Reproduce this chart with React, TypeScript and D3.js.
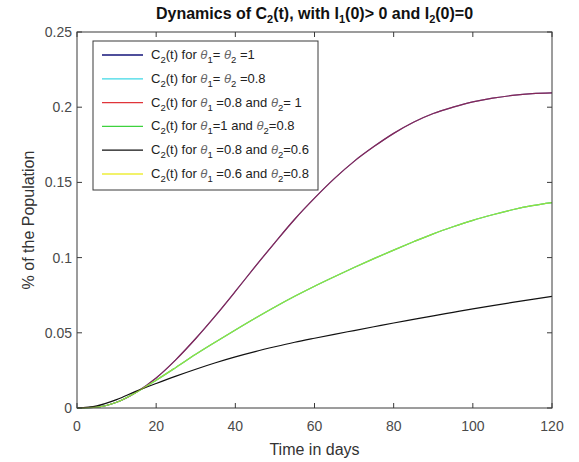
import React from "react";
import * as d3 from "d3";

const days = [0, 5, 10, 15, 20, 25, 30, 35, 40, 45, 50, 55, 60, 65, 70, 75, 80, 85, 90, 95, 100, 105, 110, 115, 120];
// C2 when theta2 = 1 (theta1 = 1 and theta1 = 0.8 coincide)
const theta2One = [0, 0.0006, 0.0038, 0.0105, 0.0200, 0.0322, 0.0462, 0.0614, 0.0775, 0.094, 0.110, 0.1255, 0.1395, 0.1525, 0.164, 0.1738, 0.1826, 0.19, 0.1958, 0.2, 0.2035, 0.206, 0.2078, 0.209, 0.2095];
// C2 when theta2 = 0.8
const theta2EightTenths = [0, 0.0006, 0.0038, 0.0105, 0.0185, 0.027, 0.0357, 0.0439, 0.0519, 0.0597, 0.0672, 0.0743, 0.081, 0.0873, 0.0934, 0.0993, 0.105, 0.1105, 0.1158, 0.1205, 0.1248, 0.1285, 0.1318, 0.1345, 0.1365];
// C2 when theta2 = 0.6
const theta2SixTenths = [0, 0.0014, 0.0056, 0.0112, 0.0163, 0.0212, 0.0258, 0.0301, 0.034, 0.0375, 0.0407, 0.0437, 0.0464, 0.049, 0.0515, 0.054, 0.0565, 0.0589, 0.0613, 0.0636, 0.0659, 0.0681, 0.0702, 0.0722, 0.0742];

const xTicks = [0, 20, 40, 60, 80, 100, 120];
const yTicks = [0, 0.05, 0.1, 0.15, 0.2, 0.25];
const yTickLabels = ["0", "0.05", "0.1", "0.15", "0.2", "0.25"];

type Series = { t1: string; t2: string; color: string; values: number[]; opacity: number };
const series: Series[] = [
  { t1: "= ", t2: " =1", color: "#14147a", values: theta2One, opacity: 1 },
  { t1: "= ", t2: " =0.8", color: "#3fd8e6", values: theta2EightTenths, opacity: 1 },
  { t1: " =0.8 and ", t2: "= 1", color: "#e0343a", values: theta2One, opacity: 0.55 },
  { t1: "=1 and ", t2: "=0.8", color: "#3ed23e", values: theta2EightTenths, opacity: 1 },
  { t1: " =0.8 and ", t2: "=0.6", color: "#111111", values: theta2SixTenths, opacity: 1 },
  { t1: " =0.6 and ", t2: "=0.8", color: "#eeee3a", values: theta2EightTenths, opacity: 0.5 },
];

const W = 579, H = 462;
const L = 77, R = 552, T = 32, B = 408;
const FONT = "'Liberation Sans', Arial, sans-serif";

export default function App() {
  const x = d3.scaleLinear().domain([0, 120]).range([L, R]);
  const y = d3.scaleLinear().domain([0, 0.25]).range([B, T]);
  const line = d3
    .line<number>()
    .x((_, i) => x(days[i]))
    .y((v) => y(v))
    .curve(d3.curveMonotoneX);
  const axisColor = "#3a3a3a";
  const labelColor = "#4a4a4a";
  const legX = 93, legY = 41, legW = 225, legH = 149;
  const rowY = (i: number) => 55 + i * 23.8;

  return (
    <svg width={W} height={H} style={{ position: "absolute", left: 0, top: 0, background: "#fff", fontFamily: FONT }}>
      <rect x={0} y={0} width={W} height={H} fill="#fff" />
      {/* title */}
      <text x={(L + R) / 2} y={19} textAnchor="middle" fontSize={16} fontWeight="bold" fill="#111">
        Dynamics of C<tspan fontSize={11} dy={4}>2</tspan>
        <tspan dy={-4}>(t), with I</tspan>
        <tspan fontSize={11} dy={4}>1</tspan>
        <tspan dy={-4}>(0)&gt; 0 and I</tspan>
        <tspan fontSize={11} dy={4}>2</tspan>
        <tspan dy={-4}>(0)=0</tspan>
      </text>

      {/* lines */}
      <g fill="none">
        {series.map((s, i) => (
          <path key={i} d={line(s.values) || ""} stroke={s.color} strokeWidth={1.2} strokeOpacity={s.opacity} />
        ))}
      </g>

      {/* box */}
      <rect x={L} y={T} width={R - L} height={B - T} fill="none" stroke={axisColor} strokeWidth={1} />
      {/* ticks */}
      {xTicks.map((t) => (
        <g key={"x" + t}>
          <line x1={x(t)} x2={x(t)} y1={B} y2={B - 5} stroke={axisColor} />
          <line x1={x(t)} x2={x(t)} y1={T} y2={T + 5} stroke={axisColor} />
          <text x={x(t)} y={431} textAnchor="middle" fontSize={14} fill={labelColor}>
            {t}
          </text>
        </g>
      ))}
      {yTicks.map((t, i) => (
        <g key={"y" + t}>
          <line x1={L} x2={L + 5} y1={y(t)} y2={y(t)} stroke={axisColor} />
          <line x1={R} x2={R - 5} y1={y(t)} y2={y(t)} stroke={axisColor} />
          <text x={72} y={y(t) + 5} textAnchor="end" fontSize={14} fill={labelColor}>
            {yTickLabels[i]}
          </text>
        </g>
      ))}
      <text x={(L + R) / 2} y={455} textAnchor="middle" fontSize={16} fill="#333">
        Time in days
      </text>
      <text transform={`translate(34,${(T + B) / 2}) rotate(-90)`} textAnchor="middle" fontSize={16} fill="#333">
        % of the Population
      </text>

      {/* legend */}
      <rect x={legX} y={legY} width={legW} height={legH} fill="#fff" stroke={axisColor} strokeWidth={1} />
      {series.map((s, i) => (
        <g key={"leg" + i}>
          <line x1={102} x2={143} y1={rowY(i)} y2={rowY(i)} stroke={s.color} strokeWidth={1.3} />
          <text x={151} y={rowY(i) + 4} fontSize={13} fill="#222">
            C<tspan fontSize={9.5} dy={4}>2</tspan>
            <tspan dy={-4}>(t) for </tspan>
            <tspan fontStyle="italic" fill="#666">θ</tspan>
            <tspan fontSize={9.5} dy={4}>1</tspan>
            <tspan dy={-4}>{s.t1}</tspan>
            <tspan fontStyle="italic" fill="#666">θ</tspan>
            <tspan fontSize={9.5} dy={4}>2</tspan>
            <tspan dy={-4}>{s.t2}</tspan>
          </text>
        </g>
      ))}
    </svg>
  );
}
